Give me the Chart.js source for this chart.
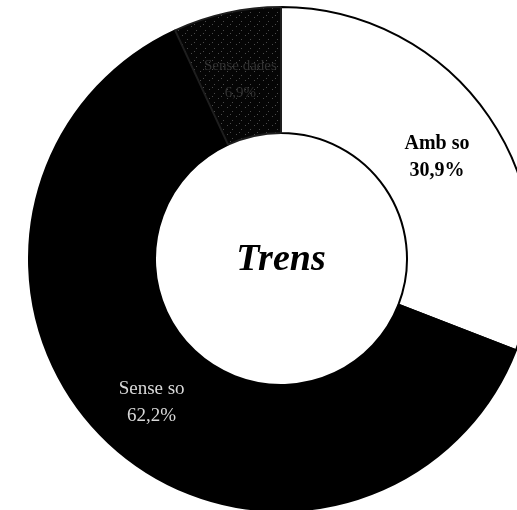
<!DOCTYPE html>
<html>
<head>
<meta charset="utf-8">
<script src="https://cdn.jsdelivr.net/npm/chart.js@4/dist/chart.umd.min.js"></script>
<style>
    html, body { margin: 0; padding: 0; background: #fff; overflow: hidden; width: 517px; height: 510px; }
    #wrap { position: absolute; left: 28px; top: 6px; width: 506px; height: 506px; }
</style>
</head>
<body>
<div id="wrap"><canvas id="trensChart"></canvas></div>
<script>
// Values
var sliceNames = ['Amb so', 'Sense so', 'Sense dades'];
var sliceValues = [30.9, 62.2, 6.9];
var sliceText = ['30,9%', '62,2%', '6,9%'];
var centerTitle = 'Trens';

// Speckled dark fill for the small slice
function speckle() {
    var c = document.createElement('canvas');
    c.width = 9;
    c.height = 9;
    var ctx = c.getContext('2d');
    ctx.fillStyle = '#050505';
    ctx.fillRect(0, 0, 9, 9);
    ctx.fillStyle = '#4a4a4a';
    ctx.fillRect(1, 2, 1, 1);
    ctx.fillRect(6, 6, 1, 1);
    ctx.fillRect(4, 0, 1, 1);
    return ctx.createPattern(c, 'repeat');
}

var labelStyle = [
    { color: '#000', font: 'bold 20px "Liberation Serif"' },
    { color: '#d8d8d8', font: '19px "Liberation Serif"' },
    { color: '#333', font: '15px "Liberation Serif"' }
];

// Draws the slice labels and the title in the hole
const ringLabels = {
    id: 'ringLabels',
    afterDatasetsDraw: function (chart) {
        var ctx = chart.ctx;
        var arcs = chart.getDatasetMeta(0).data;
        ctx.save();
        ctx.textAlign = 'center';
        ctx.textBaseline = 'middle';
        for (let i = 0; i < arcs.length; i++) {
            var p = arcs[i].tooltipPosition();
            ctx.fillStyle = labelStyle[i].color;
            ctx.font = labelStyle[i].font;
            ctx.fillText(sliceNames[i], p.x, p.y - 8);
            ctx.fillText(sliceText[i], p.x, p.y + 19);
        }
        ctx.fillStyle = '#000';
        ctx.font = 'italic bold 38px "Liberation Serif"';
        ctx.fillText(centerTitle, arcs[0].x, arcs[0].y + 1);
        ctx.restore();
    }
};

const config = {
    type: 'doughnut',
    data: {
        labels: sliceNames,
        datasets: [{
            data: sliceValues,
            backgroundColor: ['#ffffff', '#000000', speckle()],
            borderColor: ['#000000', '#000000', '#1e1e1e'],
            borderWidth: 2
        }]
    },
    options: {
        responsive: true,
        maintainAspectRatio: false,
        animation: false,
        cutout: '50%',
        layout: { padding: 0 },
        plugins: {
            legend: { display: false },
            tooltip: { enabled: false }
        }
    },
    plugins: [ringLabels]
};

new Chart(document.getElementById('trensChart'), config);
</script>
</body>
</html>
